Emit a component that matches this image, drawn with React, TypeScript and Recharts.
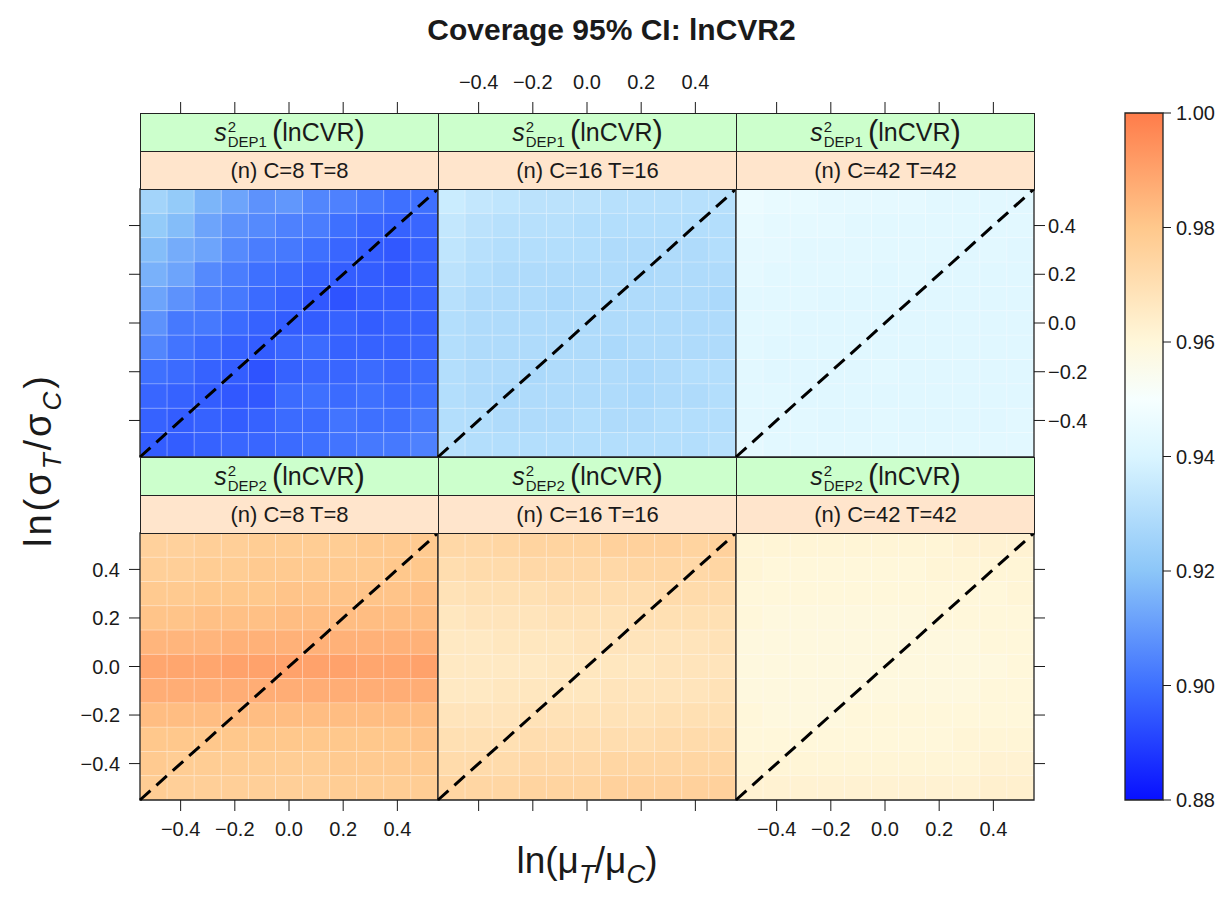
import React from 'react';
import { ComposedChart, XAxis, YAxis, ReferenceArea, ReferenceLine, Scatter } from 'recharts';

// cell centres on both axes
const LN_MU_RATIO = [-0.5, -0.4, -0.3, -0.2, -0.1, 0, 0.1, 0.2, 0.3, 0.4, 0.5];
// rows are listed top to bottom
const LN_SIGMA_RATIO = [0.5, 0.4, 0.3, 0.2, 0.1, 0, -0.1, -0.2, -0.3, -0.4, -0.5];
const AXIS_TICKS = [-0.4, -0.2, 0, 0.2, 0.4];
const KEY_TICKS = [0.88, 0.9, 0.92, 0.94, 0.96, 0.98, 1.0];
const SAMPLE_SIZES = ['(n) C=8 T=8', '(n) C=16 T=16', '(n) C=42 T=42'];
const ESTIMATORS = ['DEP1', 'DEP2'];

const dep1n8 = [
  [0.926, 0.922, 0.916, 0.912, 0.908, 0.909, 0.905, 0.904, 0.902, 0.900, 0.900],
  [0.922, 0.918, 0.912, 0.908, 0.906, 0.904, 0.903, 0.900, 0.898, 0.897, 0.898],
  [0.918, 0.914, 0.912, 0.906, 0.903, 0.902, 0.900, 0.898, 0.896, 0.895, 0.897],
  [0.915, 0.912, 0.906, 0.903, 0.900, 0.899, 0.897, 0.896, 0.896, 0.895, 0.897],
  [0.912, 0.908, 0.904, 0.902, 0.899, 0.897, 0.895, 0.894, 0.896, 0.896, 0.897],
  [0.908, 0.902, 0.902, 0.899, 0.897, 0.896, 0.896, 0.897, 0.896, 0.897, 0.897],
  [0.905, 0.901, 0.899, 0.897, 0.896, 0.898, 0.899, 0.897, 0.897, 0.897, 0.898],
  [0.900, 0.899, 0.897, 0.896, 0.894, 0.897, 0.898, 0.898, 0.899, 0.898, 0.899],
  [0.898, 0.897, 0.896, 0.895, 0.895, 0.899, 0.900, 0.899, 0.900, 0.899, 0.900],
  [0.897, 0.896, 0.897, 0.896, 0.897, 0.899, 0.899, 0.901, 0.900, 0.900, 0.902],
  [0.896, 0.896, 0.897, 0.898, 0.898, 0.899, 0.900, 0.901, 0.902, 0.902, 0.904],
];

const dep1n16 = [
  [0.936, 0.934, 0.933, 0.932, 0.932, 0.932, 0.931, 0.931, 0.931, 0.931, 0.931],
  [0.934, 0.932, 0.931, 0.931, 0.931, 0.930, 0.930, 0.930, 0.930, 0.930, 0.930],
  [0.933, 0.931, 0.930, 0.930, 0.930, 0.930, 0.929, 0.929, 0.929, 0.929, 0.930],
  [0.932, 0.930, 0.929, 0.929, 0.929, 0.929, 0.929, 0.928, 0.929, 0.929, 0.929],
  [0.931, 0.929, 0.929, 0.929, 0.928, 0.929, 0.929, 0.929, 0.929, 0.929, 0.928],
  [0.930, 0.929, 0.929, 0.929, 0.929, 0.929, 0.929, 0.929, 0.929, 0.929, 0.929],
  [0.930, 0.929, 0.929, 0.929, 0.929, 0.929, 0.928, 0.929, 0.929, 0.929, 0.929],
  [0.930, 0.929, 0.929, 0.928, 0.929, 0.929, 0.929, 0.928, 0.929, 0.930, 0.930],
  [0.930, 0.929, 0.928, 0.929, 0.929, 0.929, 0.929, 0.928, 0.929, 0.929, 0.930],
  [0.930, 0.930, 0.929, 0.929, 0.929, 0.930, 0.929, 0.929, 0.930, 0.930, 0.930],
  [0.931, 0.930, 0.930, 0.930, 0.930, 0.930, 0.930, 0.930, 0.930, 0.930, 0.931],
];

const dep1n42 = [
  [0.946, 0.945, 0.945, 0.944, 0.944, 0.944, 0.944, 0.943, 0.943, 0.943, 0.943],
  [0.945, 0.944, 0.944, 0.944, 0.943, 0.943, 0.943, 0.943, 0.943, 0.943, 0.943],
  [0.944, 0.944, 0.943, 0.943, 0.943, 0.943, 0.943, 0.943, 0.942, 0.943, 0.942],
  [0.944, 0.943, 0.943, 0.943, 0.943, 0.942, 0.943, 0.942, 0.942, 0.942, 0.942],
  [0.943, 0.943, 0.943, 0.942, 0.942, 0.942, 0.942, 0.942, 0.942, 0.942, 0.942],
  [0.943, 0.943, 0.942, 0.942, 0.942, 0.942, 0.942, 0.942, 0.942, 0.942, 0.942],
  [0.943, 0.942, 0.942, 0.942, 0.942, 0.942, 0.942, 0.942, 0.942, 0.942, 0.942],
  [0.943, 0.942, 0.942, 0.942, 0.942, 0.943, 0.942, 0.942, 0.942, 0.942, 0.942],
  [0.943, 0.943, 0.942, 0.942, 0.942, 0.942, 0.942, 0.942, 0.942, 0.942, 0.942],
  [0.943, 0.943, 0.943, 0.942, 0.942, 0.943, 0.942, 0.942, 0.942, 0.942, 0.943],
  [0.944, 0.943, 0.943, 0.943, 0.943, 0.943, 0.943, 0.943, 0.943, 0.943, 0.943],
];

const dep2n8 = [
  [0.976, 0.976, 0.977, 0.977, 0.978, 0.978, 0.978, 0.978, 0.979, 0.979, 0.979],
  [0.977, 0.977, 0.978, 0.978, 0.979, 0.979, 0.979, 0.979, 0.979, 0.980, 0.980],
  [0.979, 0.979, 0.980, 0.980, 0.980, 0.981, 0.981, 0.981, 0.981, 0.981, 0.982],
  [0.981, 0.981, 0.982, 0.982, 0.982, 0.983, 0.983, 0.983, 0.983, 0.983, 0.983],
  [0.985, 0.985, 0.985, 0.986, 0.986, 0.986, 0.986, 0.986, 0.986, 0.986, 0.986],
  [0.989, 0.989, 0.989, 0.990, 0.990, 0.990, 0.990, 0.990, 0.989, 0.989, 0.990],
  [0.987, 0.987, 0.987, 0.987, 0.987, 0.987, 0.987, 0.987, 0.987, 0.987, 0.987],
  [0.983, 0.983, 0.983, 0.983, 0.983, 0.983, 0.983, 0.983, 0.983, 0.983, 0.983],
  [0.980, 0.980, 0.980, 0.980, 0.980, 0.980, 0.980, 0.980, 0.980, 0.980, 0.981],
  [0.979, 0.978, 0.978, 0.978, 0.978, 0.978, 0.978, 0.979, 0.979, 0.979, 0.979],
  [0.978, 0.977, 0.977, 0.977, 0.977, 0.977, 0.977, 0.978, 0.978, 0.978, 0.978],
];

const dep2n16 = [
  [0.973, 0.973, 0.974, 0.975, 0.975, 0.975, 0.976, 0.976, 0.976, 0.975, 0.976],
  [0.971, 0.972, 0.972, 0.973, 0.973, 0.973, 0.973, 0.974, 0.974, 0.973, 0.974],
  [0.969, 0.970, 0.970, 0.970, 0.971, 0.971, 0.971, 0.971, 0.972, 0.972, 0.972],
  [0.967, 0.968, 0.968, 0.968, 0.969, 0.969, 0.969, 0.970, 0.970, 0.970, 0.970],
  [0.966, 0.966, 0.967, 0.967, 0.967, 0.968, 0.968, 0.968, 0.968, 0.968, 0.969],
  [0.966, 0.966, 0.966, 0.966, 0.967, 0.967, 0.967, 0.967, 0.968, 0.968, 0.968],
  [0.966, 0.966, 0.967, 0.967, 0.967, 0.967, 0.968, 0.968, 0.968, 0.968, 0.969],
  [0.968, 0.968, 0.968, 0.969, 0.969, 0.969, 0.969, 0.969, 0.970, 0.970, 0.970],
  [0.970, 0.970, 0.970, 0.971, 0.971, 0.971, 0.971, 0.971, 0.972, 0.972, 0.972],
  [0.972, 0.972, 0.972, 0.973, 0.973, 0.973, 0.974, 0.974, 0.974, 0.974, 0.974],
  [0.974, 0.974, 0.974, 0.975, 0.975, 0.975, 0.976, 0.976, 0.976, 0.976, 0.976],
];

const dep2n42 = [
  [0.961, 0.961, 0.961, 0.961, 0.961, 0.961, 0.961, 0.961, 0.962, 0.962, 0.962],
  [0.961, 0.960, 0.960, 0.960, 0.960, 0.960, 0.960, 0.961, 0.961, 0.961, 0.961],
  [0.960, 0.960, 0.960, 0.960, 0.960, 0.960, 0.960, 0.960, 0.960, 0.960, 0.961],
  [0.960, 0.959, 0.959, 0.959, 0.959, 0.959, 0.959, 0.960, 0.960, 0.960, 0.960],
  [0.959, 0.959, 0.959, 0.959, 0.959, 0.959, 0.959, 0.959, 0.959, 0.960, 0.960],
  [0.959, 0.959, 0.959, 0.959, 0.959, 0.959, 0.959, 0.959, 0.959, 0.959, 0.960],
  [0.959, 0.959, 0.959, 0.959, 0.959, 0.959, 0.959, 0.959, 0.959, 0.960, 0.960],
  [0.960, 0.959, 0.959, 0.959, 0.960, 0.960, 0.960, 0.960, 0.960, 0.960, 0.960],
  [0.960, 0.960, 0.960, 0.960, 0.960, 0.960, 0.960, 0.960, 0.961, 0.961, 0.961],
  [0.961, 0.961, 0.961, 0.961, 0.961, 0.961, 0.961, 0.961, 0.961, 0.962, 0.962],
  [0.962, 0.962, 0.962, 0.962, 0.962, 0.962, 0.962, 0.962, 0.962, 0.963, 0.963],
];

const PANEL_VALUES = [
  [dep1n8, dep1n16, dep1n42],
  [dep2n8, dep2n16, dep2n42],
];

// blue -> white -> orange ramp over [0.88, 1.00]
const RAMP: [number, number[]][] = [
  [0.88, [8, 16, 255]],
  [0.9, [62, 112, 255]],
  [0.92, [140, 198, 248]],
  [0.94, [218, 245, 255]],
  [0.95, [246, 255, 255]],
  [0.96, [255, 247, 218]],
  [0.98, [255, 200, 140]],
  [1.0, [255, 124, 74]],
];

function coverageColor(v: number) {
  let i = 0;
  while (i < RAMP.length - 2 && v > RAMP[i + 1][0]) i++;
  const [a, ca] = RAMP[i];
  const [b, cb] = RAMP[i + 1];
  const t = Math.min(1, Math.max(0, (v - a) / (b - a)));
  const c = ca.map((x, k) => Math.round(x + (cb[k] - x) * t));
  return `rgb(${c[0]},${c[1]},${c[2]})`;
}

const fmt = (v: number) => (v < 0 ? '\u2212' : '') + Math.abs(v).toFixed(1);

const FONT = '"Liberation Sans", Arial, Helvetica, sans-serif';
const INK = '#1a1a1a';
const PW = 298;
const STRIP_H = 38;
const M_TOP = 120;
const TOP_AXIS_H = 30;
const SIDE = 70;
const DOMAIN: [number, number] = [-0.55, 0.55];
const HALF = 0.05;
const TICK_FS = 20;

// top ticks sit above the two strips, so they are drawn at a fixed height
const TopTick = (props: any) => {
  const { x, payload, labels } = props;
  const base = M_TOP - 2 * STRIP_H;
  return (
    <g>
      <line x1={x} x2={x} y1={base} y2={base - 11} stroke={INK} strokeWidth={1} />
      {labels && (
        <text x={x} y={base - 24} textAnchor="middle" fontSize={TICK_FS} fill={INK} fontFamily={FONT}>
          {fmt(payload.value)}
        </text>
      )}
    </g>
  );
};

const tickStyle = { fontSize: TICK_FS, fill: INK, fontFamily: FONT };
const noMark = () => null;

function Panel({ row, col }: { row: number; col: number }) {
  const values = PANEL_VALUES[row][col];
  const ph = row === 0 ? 268 : 267;
  const plotLeft = 140 + col * PW;
  const plotTop = row === 0 ? 189 : 533;
  const cells = values.flatMap((r, i) => r.map((v, j) => ({ x: LN_MU_RATIO[j], y: LN_SIGMA_RATIO[i], v })));

  const leftTicks = col === 0;
  const leftLabels = col === 0 && row === 1;
  const rightTicks = col === 2;
  const rightLabels = col === 2 && row === 0;
  const bottomTicks = row === 1;
  const bottomLabels = row === 1 && col !== 1;

  return (
    <div style={{ position: 'absolute', left: plotLeft - SIDE, top: plotTop - M_TOP }}>
      <ComposedChart
        width={PW + 2 * SIDE}
        height={M_TOP + ph + 50}
        margin={{ top: M_TOP - TOP_AXIS_H, right: 20, bottom: 10, left: 20 }}
        data={cells}
      >
        <XAxis
          xAxisId="top"
          dataKey="x"
          orientation="top"
          type="number"
          domain={DOMAIN}
          allowDataOverflow
          ticks={AXIS_TICKS}
          interval={0}
          height={TOP_AXIS_H}
          axisLine={false}
          tickLine={false}
          tick={row === 0 ? <TopTick labels={col === 1} /> : false}
        />
        <XAxis
          xAxisId="bottom"
          dataKey="x"
          orientation="bottom"
          type="number"
          domain={DOMAIN}
          allowDataOverflow
          ticks={AXIS_TICKS}
          interval={0}
          height={40}
          axisLine={false}
          tickLine={bottomTicks ? { stroke: INK } : false}
          tickSize={11}
          tickMargin={11}
          tick={bottomTicks ? tickStyle : false}
          tickFormatter={(v: number) => (bottomLabels ? fmt(v) : '')}
        />
        <YAxis
          yAxisId="left"
          dataKey="y"
          orientation="left"
          type="number"
          domain={DOMAIN}
          allowDataOverflow
          ticks={AXIS_TICKS}
          interval={0}
          width={50}
          axisLine={false}
          tickLine={leftTicks ? { stroke: INK } : false}
          tickSize={11}
          tickMargin={9}
          tick={leftTicks ? tickStyle : false}
          tickFormatter={(v: number) => (leftLabels ? fmt(v) : '')}
        />
        <YAxis
          yAxisId="right"
          dataKey="y"
          orientation="right"
          type="number"
          domain={DOMAIN}
          allowDataOverflow
          ticks={AXIS_TICKS}
          interval={0}
          width={50}
          axisLine={false}
          tickLine={rightTicks ? { stroke: INK } : false}
          tickSize={11}
          tickMargin={3}
          tick={rightTicks ? { ...tickStyle, textAnchor: 'start' } : false}
          tickFormatter={(v: number) => (rightLabels ? fmt(v) : '')}
        />
        {/* anchors the axes to the cell data; the cells themselves are drawn as areas */}
        <Scatter
          xAxisId="bottom"
          yAxisId="left"
          dataKey="y"
          shape={noMark}
          legendType="none"
          isAnimationActive={false}
        />
        {cells.map((c, k) => (
          <ReferenceArea
            key={`c-${k}`}
            xAxisId="bottom"
            yAxisId="left"
            x1={c.x - HALF}
            x2={c.x + HALF}
            y1={c.y - HALF}
            y2={c.y + HALF}
            ifOverflow="visible"
            fill={coverageColor(c.v)}
            fillOpacity={1}
            stroke="rgba(255,255,255,0.2)"
            strokeWidth={1}
          />
        ))}
        <ReferenceLine
          xAxisId="bottom"
          yAxisId="left"
          segment={[
            { x: DOMAIN[0], y: DOMAIN[0] },
            { x: DOMAIN[1], y: DOMAIN[1] },
          ]}
          ifOverflow="visible"
          stroke="#000"
          strokeWidth={3}
          strokeDasharray="14 8"
        />
        <ReferenceArea
          xAxisId="bottom"
          yAxisId="left"
          x1={DOMAIN[0]}
          x2={DOMAIN[1]}
          y1={DOMAIN[0]}
          y2={DOMAIN[1]}
          ifOverflow="visible"
          fill="none"
          fillOpacity={0}
          stroke="#222"
          strokeWidth={1.3}
        />
      </ComposedChart>
    </div>
  );
}

const stripBase: React.CSSProperties = {
  position: 'absolute',
  width: PW + 1,
  height: STRIP_H + 1,
  boxSizing: 'border-box',
  border: '1.3px solid #222',
  display: 'flex',
  alignItems: 'center',
  justifyContent: 'center',
  fontFamily: FONT,
  color: INK,
  whiteSpace: 'nowrap',
};

function Strips({ row, col }: { row: number; col: number }) {
  const left = 140 + col * PW;
  const plotTop = row === 0 ? 189 : 533;
  return (
    <>
      <div style={{ ...stripBase, left, top: plotTop - 2 * STRIP_H, background: '#ccffcc', fontSize: 25 }}>
        <span style={{ fontStyle: 'italic' }}>s</span>
        <span
          style={{
            display: 'inline-flex',
            flexDirection: 'column',
            fontSize: 15,
            lineHeight: '15px',
            marginLeft: 1,
            marginRight: 5,
            position: 'relative',
            top: 1,
          }}
        >
          <span>2</span>
          <span>{ESTIMATORS[row]}</span>
        </span>
        <span style={{ fontSize: 31, lineHeight: '31px', position: 'relative', top: -1 }}>(</span>
        <span>lnCVR</span>
        <span style={{ fontSize: 31, lineHeight: '31px', position: 'relative', top: -1 }}>)</span>
      </div>
      <div style={{ ...stripBase, left, top: plotTop - STRIP_H, background: '#ffe5cc', fontSize: 22 }}>
        {SAMPLE_SIZES[col]}
      </div>
    </>
  );
}

function ColorKey() {
  const top = 113;
  const h = 687;
  const levels = KEY_TICKS.map((v) => ({ k: 0.5, v }));
  return (
    <div style={{ position: 'absolute', left: 1120, top: top - 12 }}>
      <ComposedChart width={103} height={h + 24} margin={{ top: 12, right: 0, bottom: 12, left: 5 }} data={levels}>
        <defs>
          <linearGradient id="coverageKey" x1="0" y1="1" x2="0" y2="0">
            {RAMP.map(([v]) => (
              <stop key={v} offset={(v - 0.88) / 0.12} stopColor={coverageColor(v)} />
            ))}
          </linearGradient>
        </defs>
        <XAxis xAxisId="k" dataKey="k" type="number" domain={[0, 1]} allowDataOverflow hide />
        <YAxis
          yAxisId="k"
          dataKey="v"
          orientation="right"
          type="number"
          domain={[0.88, 1.0]}
          allowDataOverflow
          ticks={KEY_TICKS}
          interval={0}
          width={60}
          axisLine={false}
          tickLine={{ stroke: INK }}
          tickSize={8}
          tickMargin={5}
          tick={{ ...tickStyle, textAnchor: 'start' }}
          tickFormatter={(v: number) => v.toFixed(2)}
        />
        <Scatter xAxisId="k" yAxisId="k" dataKey="v" shape={noMark} legendType="none" isAnimationActive={false} />
        <ReferenceArea
          xAxisId="k"
          yAxisId="k"
          x1={0}
          x2={1}
          y1={0.88}
          y2={1.0}
          ifOverflow="visible"
          fill="url(#coverageKey)"
          fillOpacity={1}
          stroke="#222"
          strokeWidth={1.3}
        />
      </ComposedChart>
    </div>
  );
}

const sub: React.CSSProperties = { fontSize: 26, fontStyle: 'italic', position: 'relative', top: 10 };

export default function App() {
  return (
    <div
      style={{
        position: 'absolute',
        left: 0,
        top: 0,
        width: 1223,
        height: 900,
        background: '#fff',
        fontFamily: FONT,
        color: INK,
        overflow: 'hidden',
      }}
    >
      <div
        style={{
          position: 'absolute',
          left: 0,
          width: 1223,
          top: 13,
          textAlign: 'center',
          fontSize: 30,
          fontWeight: 'bold',
        }}
      >
        Coverage 95% CI: lnCVR2
      </div>

      {[0, 1].map((row) => [0, 1, 2].map((col) => <Panel key={`p-${row}-${col}`} row={row} col={col} />))}
      {[0, 1].map((row) => [0, 1, 2].map((col) => <Strips key={`s-${row}-${col}`} row={row} col={col} />))}

      <ColorKey />

      <div
        style={{
          position: 'absolute',
          left: 287,
          width: 600,
          top: 840,
          textAlign: 'center',
          fontSize: 37,
          whiteSpace: 'nowrap',
        }}
      >
        ln(μ<span style={sub}>T</span>/μ<span style={sub}>C</span>)
      </div>

      <div
        style={{
          position: 'absolute',
          left: 38 - 150,
          top: 460 - 25,
          width: 300,
          height: 50,
          lineHeight: '50px',
          textAlign: 'center',
          fontSize: 38,
          letterSpacing: 3,
          whiteSpace: 'nowrap',
          transform: 'rotate(-90deg)',
        }}
      >
        ln(σ<span style={sub}>T</span>/σ<span style={sub}>C</span>)
      </div>
    </div>
  );
}
